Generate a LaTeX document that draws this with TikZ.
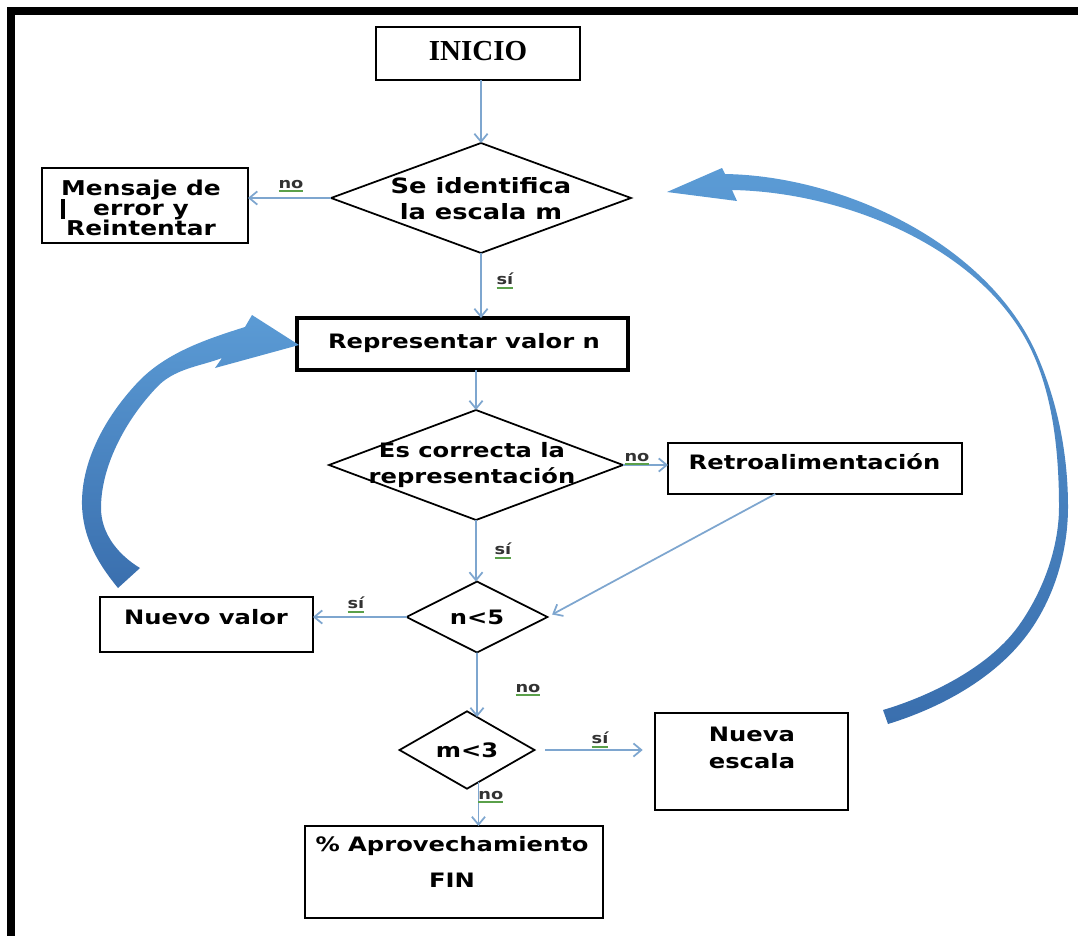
\documentclass[tikz,border=0pt]{standalone}
\usepackage{fontspec}
\setmainfont{DejaVu Sans}
\newfontfamily\boxfont{DejaVu Sans}[FakeStretch=1.22]
\newfontfamily\headfont{Liberation Serif}
\usetikzlibrary{arrows.meta,shapes.geometric,calc}
\definecolor{linkblue}{HTML}{7EA6CF}
\definecolor{arrowlight}{HTML}{5B9BD5}
\definecolor{arrowdark}{HTML}{3A6FAE}
\definecolor{ulgreen}{HTML}{5AA04A}
% green underline under the yes/no labels
\newcommand\greenul[1]{\setbox0=\hbox{#1}\rlap{\color{ulgreen}\rule[-2.2pt]{\wd0}{0.9pt}}\box0}
\begin{document}
\begin{tikzpicture}[x=0.02cm, y=-0.02cm,
  box/.style={draw=black, line width=1.1pt, rectangle, inner sep=0pt, outer sep=0pt},
  heavybox/.style={box, line width=2.2pt},
  dia/.style={draw=black, line width=1pt, diamond, inner sep=0pt, outer sep=0pt},
  txt/.style={font=\boxfont\bfseries\fontsize{11.3}{13.2}\selectfont, align=center, inner sep=0pt, text=black},
  lbl/.style={font=\boxfont\bfseries\fontsize{8.3}{9}\selectfont, inner sep=0pt, text=black!80},
  conn/.style={draw=linkblue, line width=1pt, -{Straight Barb[length=4.5pt,width=7.5pt]}},
  bigarrow/.style={top color=arrowlight, bottom color=arrowdark, draw=none},
]
\useasboundingbox (0,0) rectangle (1078,936);

% page frame
\fill[black] (7,7) rectangle (1078,15);
\fill[black] (7,7) rectangle (15,936);

% process boxes
\node[box, minimum width=4.08cm, minimum height=1.06cm] (inicio) at (478,53.5) {};
\node[box, minimum width=4.12cm, minimum height=1.5cm] (mensaje) at (145,205.5) {};
\node[heavybox, minimum width=6.62cm, minimum height=1.04cm] (repr) at (462.5,344) {};
\node[box, minimum width=5.88cm, minimum height=1.02cm] (retro) at (815,468.5) {};
\node[box, minimum width=4.26cm, minimum height=1.1cm] (nuevo) at (206.5,624.5) {};
\node[box, minimum width=3.86cm, minimum height=1.94cm] (nueva) at (751.5,761.5) {};
\node[box, minimum width=5.96cm, minimum height=1.84cm] (fin) at (454,872) {};

% decisions
\node[dia, minimum width=6cm, minimum height=2.2cm] (d1) at (481,198) {};
\node[dia, minimum width=5.88cm, minimum height=2.2cm] (d2) at (476,465) {};
\node[dia, minimum width=2.82cm, minimum height=1.42cm, font=\boxfont\bfseries\fontsize{11.3}{13.2}\selectfont] (n5) at (477,617) {n<5};
\node[dia, minimum width=2.7cm, minimum height=1.4cm, font=\boxfont\bfseries\fontsize{11.3}{13.2}\selectfont] (m3) at (467,750) {m<3};

% texts
\node[font=\headfont\bfseries\fontsize{16.5}{18}\selectfont, inner sep=0pt] (inicioT) at (478,51) {INICIO};
\node[txt, font=\boxfont\bfseries\fontsize{11.6}{11.6}\selectfont] (mensajeT) at (141,208) {Mensaje de\\error y\\Reintentar};
\fill[black] (61,199) rectangle (65,219);
\node[txt] (reprT) at (464,343) {Representar valor n};
\node[txt, font=\boxfont\bfseries\fontsize{12}{14.7}\selectfont] (d1T) at (481,199) {Se identifica\\la escala m};
\node[txt, font=\boxfont\bfseries\fontsize{11.3}{14.7}\selectfont] (d2T) at (472,465) {Es correcta la\\representación};
\node[txt] (retroT) at (814.5,462) {Retroalimentación};
\node[txt] (nuevoT) at (206,617) {Nuevo valor};
\node[txt, font=\boxfont\bfseries\fontsize{11.3}{15.3}\selectfont] (nuevaT) at (752,748) {Nueva\\escala};
\node[txt, font=\boxfont\bfseries\fontsize{11.3}{20}\selectfont] (finT) at (452,862) {\% Aprovechamiento\\FIN};

% connectors
\draw[conn] (inicio.south -| d1.north) -- (d1.north);
\draw[conn] (d1.west) -- (d1.west -| mensaje.east);
\draw[conn] (d1.south) -- (d1.south |- repr.north);
\draw[conn] (repr.south -| d2.north) -- (d2.north);
\draw[conn] (d2.east) -- (d2.east -| retro.west);
\draw[conn, shorten >=3pt] ($(retro.south west)!0.365!(retro.south east)$) -- (n5.east);
\draw[conn] (d2.south) -- (d2.south |- n5.north);
\draw[conn] (n5.west) -- (n5.west -| nuevo.east);
\draw[conn] (n5.south) -- ($(m3.north)!0.148!(m3.east)$);
\draw[conn, shorten <=6pt, shorten >=7pt] (m3.east) -- (m3.east -| nueva.west);
\coordinate (m3b) at ($(m3.south)!0.17!(m3.east)$);
\draw[conn] (m3b) -- (m3b |- fin.north);

% branch labels
\node[lbl] (l1) at (291,186) {\greenul{no}};
\node[lbl] (l2) at (505,281) {\greenul{sí}};
\node[lbl] (l3) at (637,459) {\greenul{no}};
\node[lbl] (l4) at (503,551) {\greenul{sí}};
\node[lbl] (l5) at (356,605) {\greenul{sí}};
\node[lbl] (l6) at (528,690) {\greenul{no}};
\node[lbl] (l7) at (600,740) {\greenul{sí}};
\node[lbl, anchor=west] (l8) at (478,797) {\greenul{no}};

% curved feedback arrow on the left (tail at the bottom, head into the box)
\path[bigarrow] (118,588)
  .. controls (100,566) and (83,540) .. (82,505)
  .. controls (81,459) and (108,413) .. (140,380)
  .. controls (168,352) and (207,339) .. (245,327)
  -- (252,315) -- (299,345) -- (215,368) -- (222,358)
  .. controls (201,366) and (178,368) .. (160,384)
  .. controls (128,416) and (101,464) .. (101,508)
  .. controls (101,535) and (120,556) .. (140,568)
  -- cycle;

% curved feedback arrow on the right (thin in the middle, tail at the bottom)
\path[bigarrow] (883,710)
  .. controls (930,696) and (987,668) .. (1017,628)
  .. controls (1042,594) and (1059,549) .. (1059,507)
  .. controls (1059,457) and (1054,402) .. (1034,356)
  .. controls (988,250) and (847,192) .. (732,190)
  -- (737,201) -- (667,192) -- (722,168) -- (725,174)
  .. controls (845,176) and (989,245) .. (1037,355)
  .. controls (1058,403) and (1068,455) .. (1068,507)
  .. controls (1068,552) and (1054,599) .. (1027,635)
  .. controls (994,679) and (940,708) .. (888,724)
  -- cycle;
\end{tikzpicture}
\end{document}
